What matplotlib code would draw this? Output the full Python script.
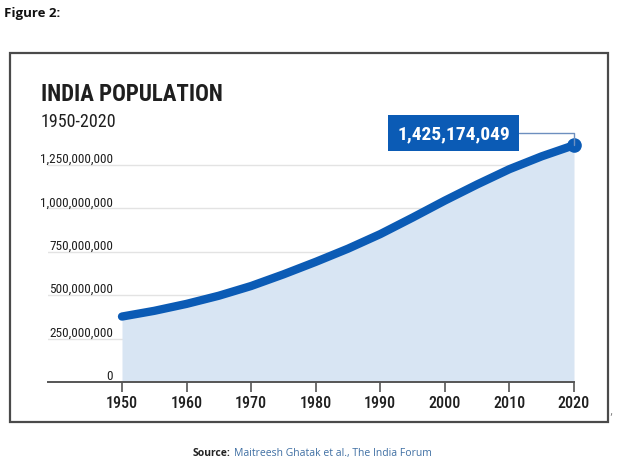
import matplotlib.pyplot as plt
from matplotlib import font_manager as fm
from matplotlib.patches import Rectangle
from matplotlib.transforms import blended_transform_factory

# values (millions)
years = [1950, 1955, 1960, 1965, 1970, 1975, 1980, 1985, 1990, 1995, 2000, 2005, 2010, 2015, 2020]
population_m = [377, 410, 450, 497, 553, 620, 692, 768, 852, 947, 1045, 1138, 1226, 1300, 1364]
population = [p * 1e6 for p in population_m]
y_ticks = [0, 250e6, 500e6, 750e6, 1000e6, 1250e6]
y_tick_labels = ["0", "250,000,000", "500,000,000", "750,000,000", "1,000,000,000", "1,250,000,000"]
x_ticks = [1950, 1960, 1970, 1980, 1990, 2000, 2010, 2020]
callout_text = "1,425,174,049"

names = {f.name for f in fm.fontManager.ttflist}
cond = "DejaVu Sans"
for cand in ["Roboto Condensed", "Liberation Sans Narrow", "Open Sans Condensed"]:
    if cand in names:
        cond = cand
        break

line_blue = "#0b5bb5"
fill_blue = "#d8e5f3"
ink = "#1f1f1f"

fig = plt.figure(figsize=(6.21, 4.64), dpi=100)
W, H = 621, 464

def fx(px):
    return px / W

def fy(py):
    return 1 - py / H

# outer frame
fig.patches.append(Rectangle((fx(10), fy(423)), fx(608) - fx(10), fy(54) - fy(423),
                             transform=fig.transFigure, fill=False, edgecolor="#4a4a4a", lw=1.6))

fig.text(fx(4), fy(14), "Figure 2:", fontsize=9.5, fontweight="bold", family="Open Sans",
         color="#111111", va="center", ha="left")

ax = fig.add_axes([fx(48), fy(383), fx(574) - fx(48), fy(140) - fy(383)])
x_left = 1950 - (122 - 48) / ((574 - 122) / 70)
ax.set_xlim(x_left, 2020)
ax.set_ylim(0, 250e6 * (383 - 140) / 43.4)

for t in y_ticks[1:]:
    ax.axhline(t, color="#e3e3e3", lw=1.0, zorder=0)

ax.fill_between(years, population, 0, color=fill_blue, lw=0, zorder=1)
ax.plot(years, population, color=line_blue, lw=6, solid_capstyle="round", solid_joinstyle="round", zorder=3)
ax.plot([years[-1]], [population[-1]], "o", color=line_blue, ms=9.5, clip_on=False, zorder=4)

for s in ["top", "right", "left"]:
    ax.spines[s].set_visible(False)
ax.spines["bottom"].set_color("#555555")
ax.spines["bottom"].set_linewidth(1.4)

ax.set_yticks([])
ax.set_xticks(x_ticks)
ax.set_xticklabels([str(x) for x in x_ticks], family=cond, fontsize=11.5, fontweight="medium", color=ink)
ax.tick_params(axis="x", length=7, width=1.2, color="#555555", pad=2.5)

trans = blended_transform_factory(ax.transAxes, ax.transData)
label_x = (113 - 48) / (574 - 48)
for t, lab in zip(y_ticks, y_tick_labels):
    ax.annotate(lab, xy=(label_x, t), xycoords=trans, xytext=(0, 2.2), textcoords="offset points",
                ha="right", va="baseline", family=cond, fontsize=9.5, color=ink)

# title block
fig.text(fx(41), fy(101), "INDIA POPULATION", family=cond, fontweight="bold", fontsize=16.5,
         color=ink, ha="left", va="baseline")
fig.text(fx(41), fy(127), "1950-2020", family=cond, fontsize=13, color=ink, ha="left", va="baseline")

# callout
ax.annotate(callout_text, xy=(years[-1], population[-1]), xycoords="data",
            xytext=(fx(453.5), fy(134)), textcoords="figure fraction",
            ha="center", va="center", family=cond, fontweight="bold", fontsize=14, color="white",
            bbox=dict(boxstyle="square,pad=0.45", fc=line_blue, ec="none"),
            arrowprops=dict(arrowstyle="-", color="#6d8fbf", lw=1.0,
                            connectionstyle="angle,angleA=0,angleB=90,rad=0", shrinkA=0, shrinkB=0),
            zorder=5, annotation_clip=False)

fig.text(fx(611), fy(412), ",", fontsize=7, color="#777777", ha="center", va="center")

# source line
fig.text(fx(193), fy(454), "Source:", fontsize=7.5, fontweight="bold", family="Open Sans",
         color="#222222", ha="left", va="center")
fig.text(fx(234), fy(454), "Maitreesh Ghatak et al., The India Forum", fontsize=7.5, family="Open Sans",
         color="#3f6fa3", ha="left", va="center")

fig.savefig("out.png", dpi=100)
